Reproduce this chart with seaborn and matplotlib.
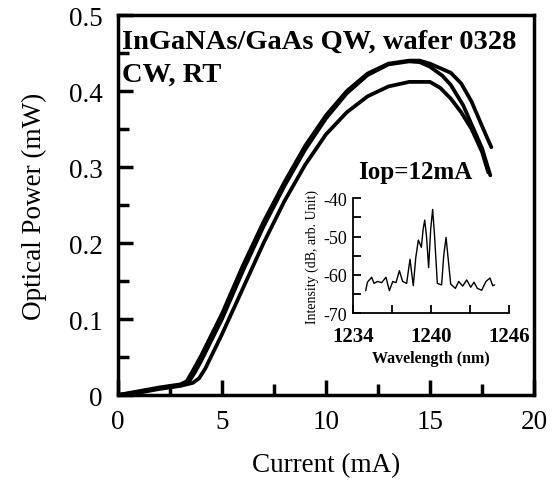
import numpy as np
import pandas as pd
import matplotlib
matplotlib.use("Agg")
import matplotlib.pyplot as plt
import seaborn as sns

# L-I curves (current in mA, optical power in mW), three devices
current_a = [0, 1, 2, 3, 3.4, 3.7, 4, 5, 6, 7, 8, 9, 10, 11, 12, 13, 14, 14.5, 15, 15.6, 16, 16.6, 17, 17.5, 17.9]
power_a = [0.0, 0.004, 0.009, 0.013, 0.017, 0.03, 0.045, 0.10, 0.163, 0.222, 0.275, 0.323, 0.364, 0.397,
           0.421, 0.435, 0.439, 0.438, 0.432, 0.42, 0.408, 0.381, 0.356, 0.325, 0.289]

current_b = [0, 1, 2, 3, 3.3, 3.6, 4, 5, 6, 7, 8, 9, 10, 11, 12, 13, 14, 14.5, 15, 16, 16.5, 17, 17.5, 17.95]
power_b = [0.0, 0.005, 0.01, 0.014, 0.018, 0.032, 0.052, 0.107, 0.17, 0.228, 0.28, 0.328, 0.368, 0.40,
           0.423, 0.436, 0.44, 0.44, 0.436, 0.424, 0.41, 0.386, 0.354, 0.326]

current_c = [0, 1, 2, 3, 3.6, 3.9, 4.2, 5, 6, 7, 8, 9, 10, 11, 12, 13, 14, 15, 15.5, 16, 16.5, 17, 17.5, 17.8]
power_c = [0.0, 0.003, 0.008, 0.012, 0.016, 0.022, 0.035, 0.08, 0.14, 0.2, 0.255, 0.303, 0.343, 0.372,
           0.393, 0.406, 0.412, 0.412, 0.404, 0.39, 0.372, 0.35, 0.32, 0.293]

# inset spectrum at Iop = 12 mA
wavelength = [1235.0, 1235.13, 1235.46, 1235.64, 1235.9, 1236.23, 1236.56, 1236.82, 1237.08, 1237.33,
              1237.59, 1237.84, 1238.15, 1238.3, 1238.41, 1238.52, 1238.66, 1238.85, 1239.05, 1239.28,
              1239.42, 1239.54, 1239.68, 1239.84, 1240.0, 1240.15, 1240.3, 1240.51, 1240.84, 1241.0,
              1241.18, 1241.35, 1241.54, 1241.9, 1242.15, 1242.46, 1242.77, 1243.08, 1243.33, 1243.59,
              1243.92, 1244.25, 1244.56, 1244.77, 1244.92]
intensity = [-64.1, -61.9, -60.6, -62.2, -61.7, -62.0, -60.6, -64.1, -61.7, -62.0,
             -58.9, -61.7, -62.2, -58.5, -55.9, -59.0, -62.8, -55.5, -50.9, -52.8,
             -48.0, -45.7, -50.0, -58.1, -48.0, -42.9, -50.0, -62.2, -62.6, -55.0,
             -50.2, -56.0, -62.4, -63.5, -61.7, -62.9, -61.3, -63.2, -61.9, -63.5,
             -64.0, -61.7, -60.8, -62.8, -62.6]

sns.set_style("ticks")
plt.rcParams['font.family'] = ['Liberation Serif', 'DejaVu Serif']
plt.rcParams['axes.unicode_minus'] = False
for k in ['text.color', 'axes.labelcolor', 'xtick.color', 'ytick.color', 'axes.edgecolor']:
    plt.rcParams[k] = 'black'

fig = plt.figure(figsize=(5.53, 4.81), dpi=100)
ax = fig.add_axes([0.2134, 0.1767, 0.7522, 0.79])

for cur, pw in [(current_a, power_a), (current_b, power_b), (current_c, power_c)]:
    df = pd.DataFrame({"Current": cur, "Power": pw})
    sns.lineplot(data=df, x="Current", y="Power", ax=ax, color="black", lw=2.7,
                 sort=False, estimator=None)

ax.set_xlim(0, 20)
ax.set_ylim(0, 0.5)
ax.set_xticks([0, 5, 10, 15, 20])
ax.set_xticks([2.5, 7.5, 12.5, 17.5], minor=True)
ax.set_yticks([0, 0.1, 0.2, 0.3, 0.4, 0.5])
ax.set_yticklabels(["0", "0.1", "0.2", "0.3", "0.4", "0.5"])
ax.set_yticks([0.05, 0.15, 0.25, 0.35, 0.45], minor=True)
ax.tick_params(which="major", direction="in", length=11, width=2.5, labelsize=19.5)
ax.tick_params(which="minor", direction="in", length=8, width=2.5)
ax.tick_params(axis="x", pad=10)
ax.tick_params(axis="y", pad=11)
ax.tick_params(top=False, right=False)
for s in ax.spines.values():
    s.set_linewidth(2.5)
ax.set_xlabel("Current (mA)", fontsize=19.5, labelpad=13)
ax.set_ylabel("Optical Power (mW)", fontsize=19.5, labelpad=16)

ax.text(0.18, 0.466, "InGaNAs/GaAs QW, wafer 0328", fontsize=20.5, fontweight="bold", va="center")
ax.text(0.18, 0.422, "CW, RT", fontsize=20.5, fontweight="bold", va="center")
ax.text(14.3, 0.294, "Iop=12mA", fontsize=18, fontweight="bold", ha="center", va="center")

# inset
axin = fig.add_axes([0.6378, 0.3466, 0.2821, 0.2391])
spec = pd.DataFrame({"Wavelength": wavelength, "Intensity": intensity})
sns.lineplot(data=spec, x="Wavelength", y="Intensity", ax=axin, color="black", lw=1.0,
             sort=False, estimator=None)
axin.set_xlim(1234, 1246)
axin.set_ylim(-70, -40)
axin.set_xticks([1234, 1237, 1240, 1243, 1246])
axin.set_xticklabels(["1234", "", "1240", "", "1246"], fontweight="bold")
axin.set_yticks([-70, -60, -50, -40])
axin.set_yticks([-65, -55, -45], minor=True)
axin.tick_params(which="both", direction="in", length=6, width=1.3)
axin.tick_params(axis="x", labelsize=15, pad=9)
axin.tick_params(axis="y", labelsize=13, pad=4)
axin.patch.set_alpha(0)
sns.despine(ax=axin)
for s in ["left", "bottom"]:
    axin.spines[s].set_linewidth(1.3)
axin.set_xlabel("Wavelength (nm)", fontsize=11.5, fontweight="bold", labelpad=3)
axin.set_ylabel("Intensity (dB, arb. Unit)", fontsize=10, labelpad=3)

fig.savefig("out.png", dpi=100)
